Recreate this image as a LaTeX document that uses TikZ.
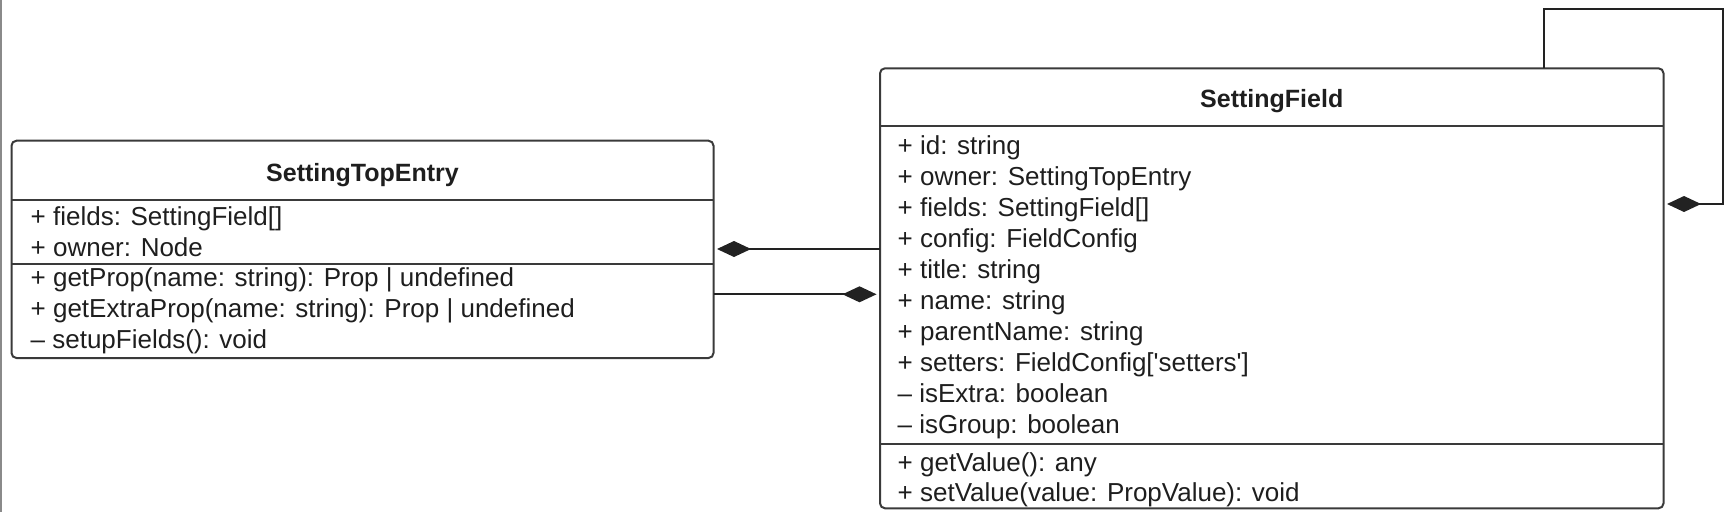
\documentclass[tikz,border=0pt]{standalone}
\usepackage{fontspec}
\setmainfont{Liberation Sans}
\usetikzlibrary{arrows.meta}
\definecolor{linec}{HTML}{3A3A3A}
\definecolor{connc}{HTML}{222222}
\definecolor{txtc}{HTML}{1E1E1E}
\definecolor{edgec}{HTML}{8A8A8A}
\tikzset{
  classbox/.style={draw=linec, line width=2pt, rounded corners=5pt, inner sep=0pt, outer sep=0pt},
  sepline/.style={draw=linec, line width=2pt},
  hdr/.style={inner sep=0pt, anchor=base, text=txtc, font=\fontsize{25}{30}\selectfont\bfseries},
  member/.style={inner sep=0pt, anchor=base west, text=txtc, font=\fontsize{26}{31}\selectfont},
  comp/.style={draw=connc, line width=2pt, -{Diamond[length=34pt, width=16pt, fill=connc]}, shorten >=3.5pt}
}
\begin{document}
\begin{tikzpicture}[x=1pt, y=-1pt]
\useasboundingbox (0,0) rectangle (1728,512);
% screenshot edge
\draw[edgec, line width=1.5pt] (0.75,0) -- (0.75,512);

% class boxes
\node[classbox, minimum width=702pt, minimum height=217.3pt] (lb) at (362.5,249.35) {};
\node[classbox, minimum width=783.5pt, minimum height=440pt] (rb) at (1271.75,288.3) {};

% separators
\coordinate (ly1) at (0,200);
\coordinate (ly2) at (0,263.5);
\coordinate (ry1) at (0,126);
\coordinate (ry2) at (0,444);
\draw[sepline] (lb.west |- ly1) -- (lb.east |- ly1);
\draw[sepline] (lb.west |- ly2) -- (lb.east |- ly2);
\draw[sepline] (rb.west |- ry1) -- (rb.east |- ry1);
\draw[sepline] (rb.west |- ry2) -- (rb.east |- ry2);

% headers
\node[hdr] (lbt) at (362.5,181) {SettingTopEntry};
\node[hdr] (rbt) at (1271.75,107.3) {SettingField};

% left members
\node[member] (l1) at (30.5,225) {+ fields: SettingField[]};
\node[member] (l2) at (30.5,256) {+ owner: Node};
\node[member] (l3) at (30.5,286.5) {+ getProp(name: string): Prop | undefined};
\node[member] (l4) at (30.5,317.5) {+ getExtraProp(name: string): Prop | undefined};
\node[member] (l5) at (30.5,348.5) {– setupFields(): void};

% right members
\node[member] (r1) at (897.5,154.5) {+ id: string};
\node[member] (r2) at (897.5,185.5) {+ owner: SettingTopEntry};
\node[member] (r3) at (897.5,216.5) {+ fields: SettingField[]};
\node[member] (r4) at (897.5,247.5) {+ config: FieldConfig};
\node[member] (r5) at (897.5,278.5) {+ title: string};
\node[member] (r6) at (897.5,309.5) {+ name: string};
\node[member] (r7) at (897.5,340.5) {+ parentName: string};
\node[member] (r8) at (897.5,371.5) {+ setters: FieldConfig[\textquotesingle setters\textquotesingle]};
\node[member] (r9) at (897.5,402.5) {– isExtra: boolean};
\node[member] (r10) at (897.5,433.5) {– isGroup: boolean};
\node[member] (r11) at (897.5,471) {+ getValue(): any};
\node[member] (r12) at (897.5,501.5) {+ setValue(value: PropValue): void};

% connectors
\coordinate (cy1) at (0,249);
\coordinate (cy2) at (0,294.3);
\draw[comp] (rb.west |- cy1) -- (lb.east |- cy1);
\draw[comp] (lb.east |- cy2) -- (rb.west |- cy2);
\coordinate (ls) at (1544,68.3);
\coordinate (lc) at (1723,9);
\coordinate (le) at (1663.5,204);
\draw[comp] (ls) |- (lc) |- (rb.east |- le);
\end{tikzpicture}
\end{document}
